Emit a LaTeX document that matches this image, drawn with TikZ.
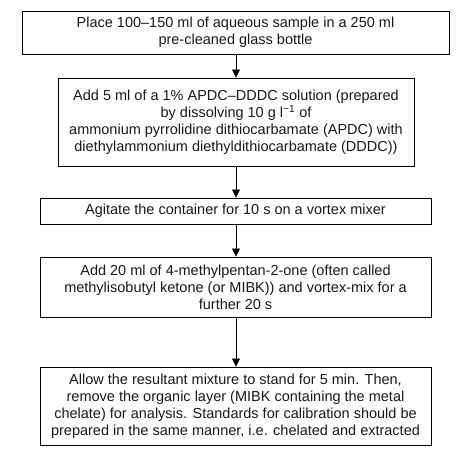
\documentclass[tikz,border=0pt]{standalone}
\usepackage{fontspec}
\setmainfont{Liberation Sans}
\usetikzlibrary{arrows.meta}
\begin{document}
\begin{tikzpicture}[x=1pt,y=-1pt,
  stepbox/.style={draw, line width=0.9pt, inner sep=0pt, align=center,
    font=\fontsize{14.5}{17}\selectfont, text=black!90},
  flow/.style={draw, line width=0.8pt, -{Triangle[length=8pt,width=8pt]}}]
\useasboundingbox (0,0) rectangle (462,459);
\node[stepbox, minimum width=427pt, minimum height=43pt] (s1) at (235.5,32.5)
  {Place 100--150 ml of aqueous sample in a 250 ml\\pre-cleaned glass bottle};
\node[stepbox, minimum width=356pt, minimum height=88pt] (s2) at (236,122)
  {Add 5 ml of a 1\% APDC--DDDC solution (prepared\\by dissolving 10 g l\textsuperscript{\char"2212 1} of\\ammonium pyrrolidine dithiocarbamate (APDC) with\\diethylammonium diethyldithiocarbamate (DDDC))};
\node[stepbox, minimum width=391pt, minimum height=26pt] (s3) at (235.5,211)
  {Agitate the container for 10 s on a vortex mixer};
\node[stepbox, minimum width=391pt, minimum height=60pt] (s4) at (235.5,287)
  {Add 20 ml of 4-methylpentan-2-one (often called\\methylisobutyl ketone (or MIBK)) and vortex-mix for a\\further 20 s};
\node[stepbox, minimum width=391pt, minimum height=78pt] (s5) at (235.5,406)
  {Allow the resultant mixture to stand for 5 min. Then,\\remove the organic layer (MIBK containing the metal\\chelate) for analysis. Standards for calibration should be\\prepared in the same manner, i.e. chelated and extracted};
\draw[flow] (s1.south -| s2.north) -- (s2.north);
\draw[flow] (s2.south) -- (s2.south |- s3.north);
\draw[flow] (s3.south -| s2.south) -- (s2.south |- s4.north);
\draw[flow] (s4.south -| s2.south) -- (s2.south |- s5.north);
\end{tikzpicture}
\end{document}
